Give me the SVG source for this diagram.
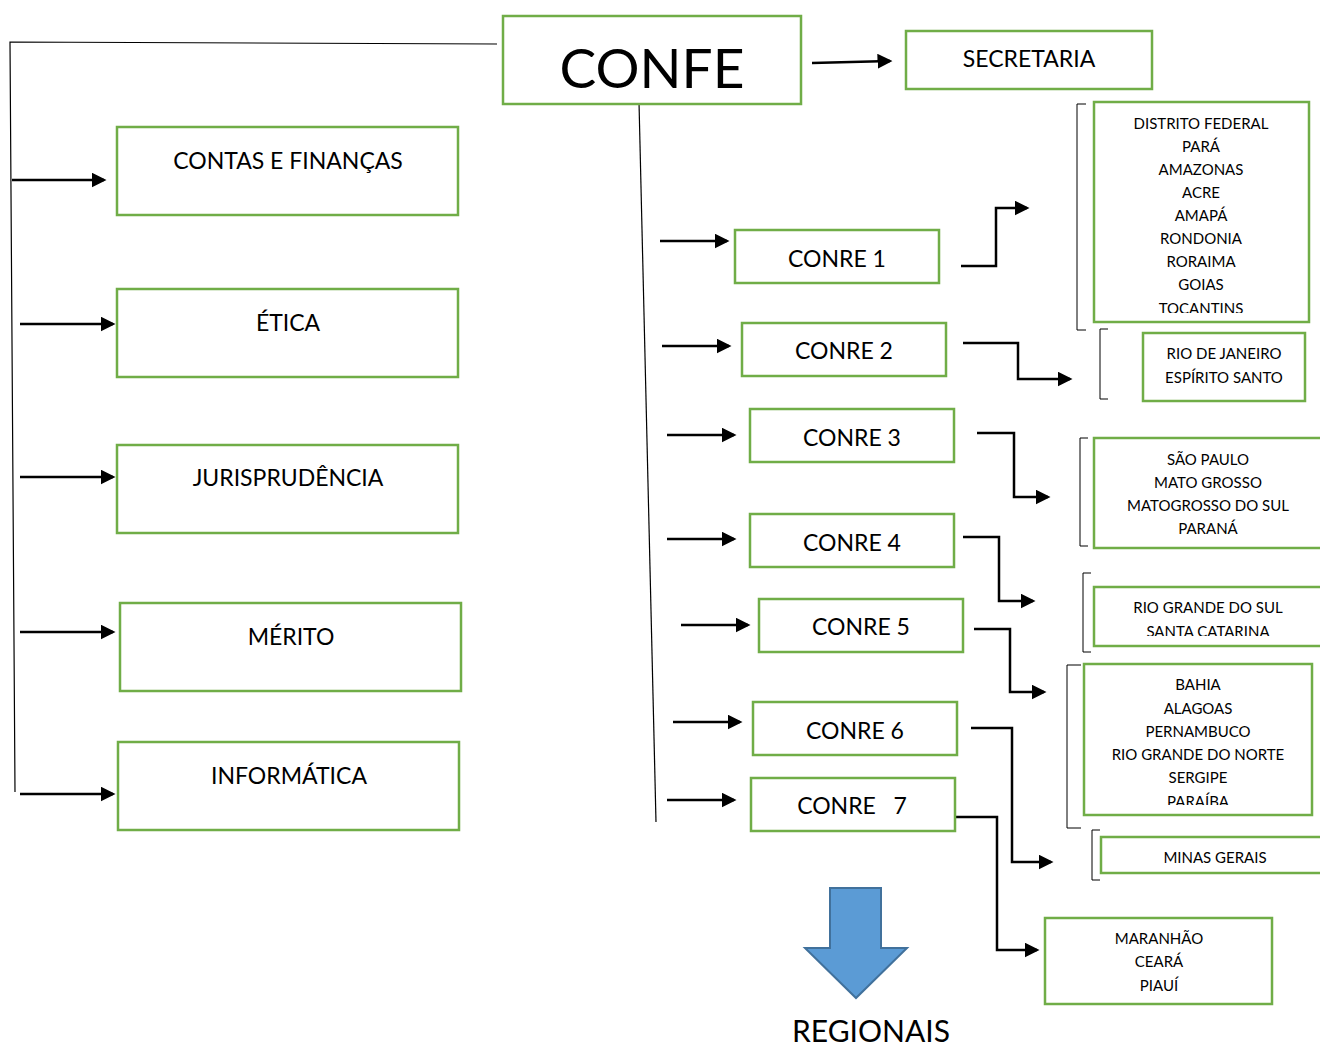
<svg xmlns="http://www.w3.org/2000/svg" width="1320" height="1047" viewBox="0 0 1320 1047">
<style>
.box{fill:#fff;stroke:#70AD47;stroke-width:2.5}
.t{font-family:Lato,"Open Sans",sans-serif;fill:#000;text-anchor:middle}
.l{font-size:23px}
.s{font-size:15px}
.c{fill:none;stroke:#000;stroke-width:2.5}
.thin{fill:none;stroke:#000;stroke-width:1.2}
.br{fill:none;stroke:#000;stroke-width:1}
</style>
<defs>
<marker id="ah" markerWidth="6" markerHeight="6" refX="5" refY="3" orient="auto" markerUnits="strokeWidth">
<path d="M0,0 L6,3 L0,6 Z" fill="#000"/>
</marker>
<clipPath id="cDF"><rect x="1094" y="102" width="215" height="211"/></clipPath>
<clipPath id="cRS"><rect x="1094" y="587" width="226" height="49"/></clipPath>
<clipPath id="cBA"><rect x="1084" y="664" width="228" height="141"/></clipPath>
</defs>
<rect width="1320" height="1047" fill="#fff"/>

<g id="connectors">
<polyline class="thin" points="497,44 10,42 15,792"/>
<line class="thin" x1="639" y1="102" x2="656" y2="822"/>
<line class="c" x1="812" y1="63" x2="890" y2="61" marker-end="url(#ah)"/>
<line class="c" x1="12" y1="180" x2="104" y2="180" marker-end="url(#ah)"/>
<line class="c" x1="20" y1="324" x2="113" y2="324" marker-end="url(#ah)"/>
<line class="c" x1="20" y1="477" x2="113" y2="477" marker-end="url(#ah)"/>
<line class="c" x1="20" y1="632" x2="113" y2="632" marker-end="url(#ah)"/>
<line class="c" x1="20" y1="794" x2="113" y2="794" marker-end="url(#ah)"/>
<line class="c" x1="660" y1="241" x2="727" y2="241" marker-end="url(#ah)"/>
<line class="c" x1="662" y1="346" x2="729" y2="346" marker-end="url(#ah)"/>
<line class="c" x1="667" y1="435" x2="734" y2="435" marker-end="url(#ah)"/>
<line class="c" x1="667" y1="539" x2="734" y2="539" marker-end="url(#ah)"/>
<line class="c" x1="681" y1="625" x2="748" y2="625" marker-end="url(#ah)"/>
<line class="c" x1="673" y1="722" x2="740" y2="722" marker-end="url(#ah)"/>
<line class="c" x1="667" y1="800" x2="734" y2="800" marker-end="url(#ah)"/>
<polyline class="c" points="961,266 996,266 996,208 1027,208" marker-end="url(#ah)"/>
<polyline class="c" points="963,343 1018,343 1018,379 1070,379" marker-end="url(#ah)"/>
<polyline class="c" points="977,433 1014,433 1014,497 1048,497" marker-end="url(#ah)"/>
<polyline class="c" points="963,537 999,537 999,601 1033,601" marker-end="url(#ah)"/>
<polyline class="c" points="974,629 1010,629 1010,692 1044,692" marker-end="url(#ah)"/>
<polyline class="c" points="971,728 1012,728 1012,862 1051,862" marker-end="url(#ah)"/>
<polyline class="c" points="955,817 997,817 997,950 1037,950" marker-end="url(#ah)"/>
<path class="br" d="M1086,104 H1077 V330 H1086"/>
<path class="br" d="M1108,329 H1100 V399 H1108"/>
<path class="br" d="M1088,438 H1080 V546 H1088"/>
<path class="br" d="M1091,573 H1083 V652 H1091"/>
<path class="br" d="M1081,665 H1067 V828 H1081"/>
<path class="br" d="M1100,830 H1092 V880 H1100"/>
</g>

<g id="confe">
<rect class="box" x="503" y="16" width="298" height="88"/>
<text class="t" x="652" y="88" font-size="55">CONFE</text>
</g>
<g id="secretaria">
<rect class="box" x="906" y="31" width="246" height="58"/>
<text class="t l" x="1029" y="67">SECRETARIA</text>
</g>

<g id="contas">
<rect class="box" x="117" y="127" width="341" height="88"/>
<text class="t l" x="288" y="169">CONTAS E FINANÇAS</text>
</g>
<g id="etica">
<rect class="box" x="117" y="289" width="341" height="88"/>
<text class="t l" x="288" y="331">ÉTICA</text>
</g>
<g id="jurisprudencia">
<rect class="box" x="117" y="445" width="341" height="88"/>
<text class="t l" x="288" y="486">JURISPRUDÊNCIA</text>
</g>
<g id="merito">
<rect class="box" x="120" y="603" width="341" height="88"/>
<text class="t l" x="291" y="645">MÉRITO</text>
</g>
<g id="informatica">
<rect class="box" x="118" y="742" width="341" height="88"/>
<text class="t l" x="289" y="784">INFORMÁTICA</text>
</g>

<g id="conre1">
<rect class="box" x="735" y="230" width="204" height="53"/>
<text class="t l" x="837" y="267">CONRE 1</text>
</g>
<g id="conre2">
<rect class="box" x="742" y="323" width="204" height="53"/>
<text class="t l" x="844" y="359">CONRE 2</text>
</g>
<g id="conre3">
<rect class="box" x="750" y="409" width="204" height="53"/>
<text class="t l" x="852" y="446">CONRE 3</text>
</g>
<g id="conre4">
<rect class="box" x="750" y="514" width="204" height="53"/>
<text class="t l" x="852" y="551">CONRE 4</text>
</g>
<g id="conre5">
<rect class="box" x="759" y="599" width="204" height="53"/>
<text class="t l" x="861" y="635">CONRE 5</text>
</g>
<g id="conre6">
<rect class="box" x="753" y="702" width="204" height="53"/>
<text class="t l" x="855" y="739">CONRE 6</text>
</g>
<g id="conre7">
<rect class="box" x="751" y="778" width="204" height="53"/>
<text class="t l" x="852" y="814" xml:space="preserve">CONRE   7</text>
</g>

<g id="reg1">
<rect class="box" x="1094" y="102" width="215" height="220"/>
<g clip-path="url(#cDF)">
<text class="t s" x="1201" y="129">DISTRITO FEDERAL</text>
<text class="t s" x="1201" y="152">PARÁ</text>
<text class="t s" x="1201" y="175">AMAZONAS</text>
<text class="t s" x="1201" y="198">ACRE</text>
<text class="t s" x="1201" y="221">AMAPÁ</text>
<text class="t s" x="1201" y="244">RONDONIA</text>
<text class="t s" x="1201" y="267">RORAIMA</text>
<text class="t s" x="1201" y="290">GOIAS</text>
<text class="t s" x="1201" y="314">TOCANTINS</text>
</g>
</g>
<g id="reg2">
<rect class="box" x="1143" y="333" width="162" height="68"/>
<text class="t s" x="1224" y="359">RIO DE JANEIRO</text>
<text class="t s" x="1224" y="383">ESPÍRITO SANTO</text>
</g>
<g id="reg3">
<rect class="box" x="1094" y="438" width="236" height="110"/>
<text class="t s" x="1208" y="465">SÃO PAULO</text>
<text class="t s" x="1208" y="488">MATO GROSSO</text>
<text class="t s" x="1208" y="511">MATOGROSSO DO SUL</text>
<text class="t s" x="1208" y="534">PARANÁ</text>
</g>
<g id="reg4">
<rect class="box" x="1094" y="587" width="236" height="59"/>
<g clip-path="url(#cRS)">
<text class="t s" x="1208" y="613">RIO GRANDE DO SUL</text>
<text class="t s" x="1208" y="637">SANTA CATARINA</text>
</g>
</g>
<g id="reg5">
<rect class="box" x="1084" y="664" width="228" height="151"/>
<g clip-path="url(#cBA)">
<text class="t s" x="1198" y="690">BAHIA</text>
<text class="t s" x="1198" y="714">ALAGOAS</text>
<text class="t s" x="1198" y="737">PERNAMBUCO</text>
<text class="t s" x="1198" y="760">RIO GRANDE DO NORTE</text>
<text class="t s" x="1198" y="783">SERGIPE</text>
<text class="t s" x="1198" y="807">PARAÍBA</text>
</g>
</g>
<g id="reg6">
<rect class="box" x="1101" y="837" width="229" height="36"/>
<text class="t s" x="1215" y="863">MINAS GERAIS</text>
</g>
<g id="reg7">
<rect class="box" x="1045" y="918" width="227" height="86"/>
<text class="t s" x="1159" y="944">MARANHÃO</text>
<text class="t s" x="1159" y="967">CEARÁ</text>
<text class="t s" x="1159" y="991">PIAUÍ</text>
</g>

<g id="regionais">
<path d="M830,888 H881 V948 H907 L856,998 L805,948 H830 Z" fill="#5B9BD5" stroke="#41719C" stroke-width="2"/>
<text class="t" x="871" y="1042" font-size="30">REGIONAIS</text>
</g>
</svg>
